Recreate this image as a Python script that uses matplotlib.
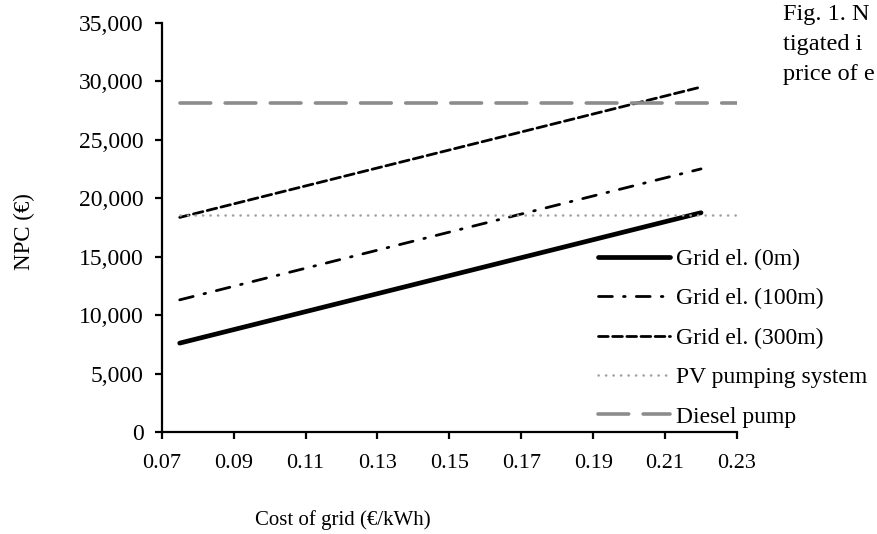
# NPC vs cost of grid electricity
import matplotlib.pyplot as plt
from matplotlib.ticker import FuncFormatter, FixedLocator, MultipleLocator

plt.rcParams['font.family'] = ['Liberation Serif', 'DejaVu Serif']

# data
cost = [0.075, 0.22]
grid_0m = [7600, 18750]
grid_100m = [11300, 22500]
grid_300m = [18350, 29500]
cost_flat = [0.075, 0.23]
pv_pump = [18550, 18550]
diesel_pump = [28100, 28100]
x_ticks = [0.07, 0.09, 0.11, 0.13, 0.15, 0.17, 0.19, 0.21, 0.23]
caption = ['Fig. 1. N', 'tigated i', 'price of e']

fig = plt.figure(figsize=(8.78, 5.34), dpi=100)
ax = fig.add_axes([0.1842, 0.191, 0.6552, 0.7665])

ax.plot(cost, grid_0m, color='black', lw=3.4, solid_capstyle='round', label='Grid el. (0m)')
ax.plot(cost, grid_100m, color='black', lw=2.0, dashes=(5, 4, 0.6, 4),
        dash_capstyle='round', label='Grid el. (100m)')
ax.plot(cost, grid_300m, color='black', lw=2.0, dashes=(3.5, 1.6),
        dash_capstyle='round', label='Grid el. (300m)')
ax.plot(cost_flat, pv_pump, color='#a0a0a0', lw=1.8, dashes=(0.1, 2.9),
        dash_capstyle='round', label='PV pumping system')
ax.plot(cost_flat, diesel_pump, color='#8c8c8c', lw=2.6, dashes=(8.5, 4.0),
        dash_capstyle='round', label='Diesel pump')

ax.set_xlim(0.07, 0.23)
ax.set_ylim(0, 35000)
ax.xaxis.set_major_locator(FixedLocator(x_ticks))
ax.yaxis.set_major_locator(MultipleLocator(5000))
ax.xaxis.set_major_formatter(FuncFormatter(lambda v, p: f'{v:.2f}'))
ax.yaxis.set_major_formatter(FuncFormatter(lambda v, p: f'{v:,.0f}'))

for s in ['top', 'right']:
    ax.spines[s].set_visible(False)
for s in ['left', 'bottom']:
    ax.spines[s].set_linewidth(1.6)
ax.tick_params(direction='out', length=5, width=1.6)
ax.tick_params(axis='x', labelsize=16, pad=11)
ax.tick_params(axis='y', labelsize=17, pad=8)

fig.text(0.391, 0.026, 'Cost of grid (€/kWh)', ha='center', va='center', fontsize=15)
fig.text(0.028, 0.566, 'NPC (€)', ha='center', va='center', rotation=90, fontsize=16.5)

leg = ax.legend(loc='upper left', bbox_to_anchor=(0.681, 0.535), bbox_transform=fig.transFigure,
                frameon=False, fontsize=17, handlelength=3.05, handletextpad=0.25,
                labelspacing=0.76, borderaxespad=0, borderpad=0)

# caption fragment at the top right (cut by the page edge in the original)
for i, line in enumerate(caption):
    fig.text(0.892, 1 - (20 + 30 * i) / 534, line, fontsize=17.5, va='baseline')

fig.savefig('out.png', dpi=100)
